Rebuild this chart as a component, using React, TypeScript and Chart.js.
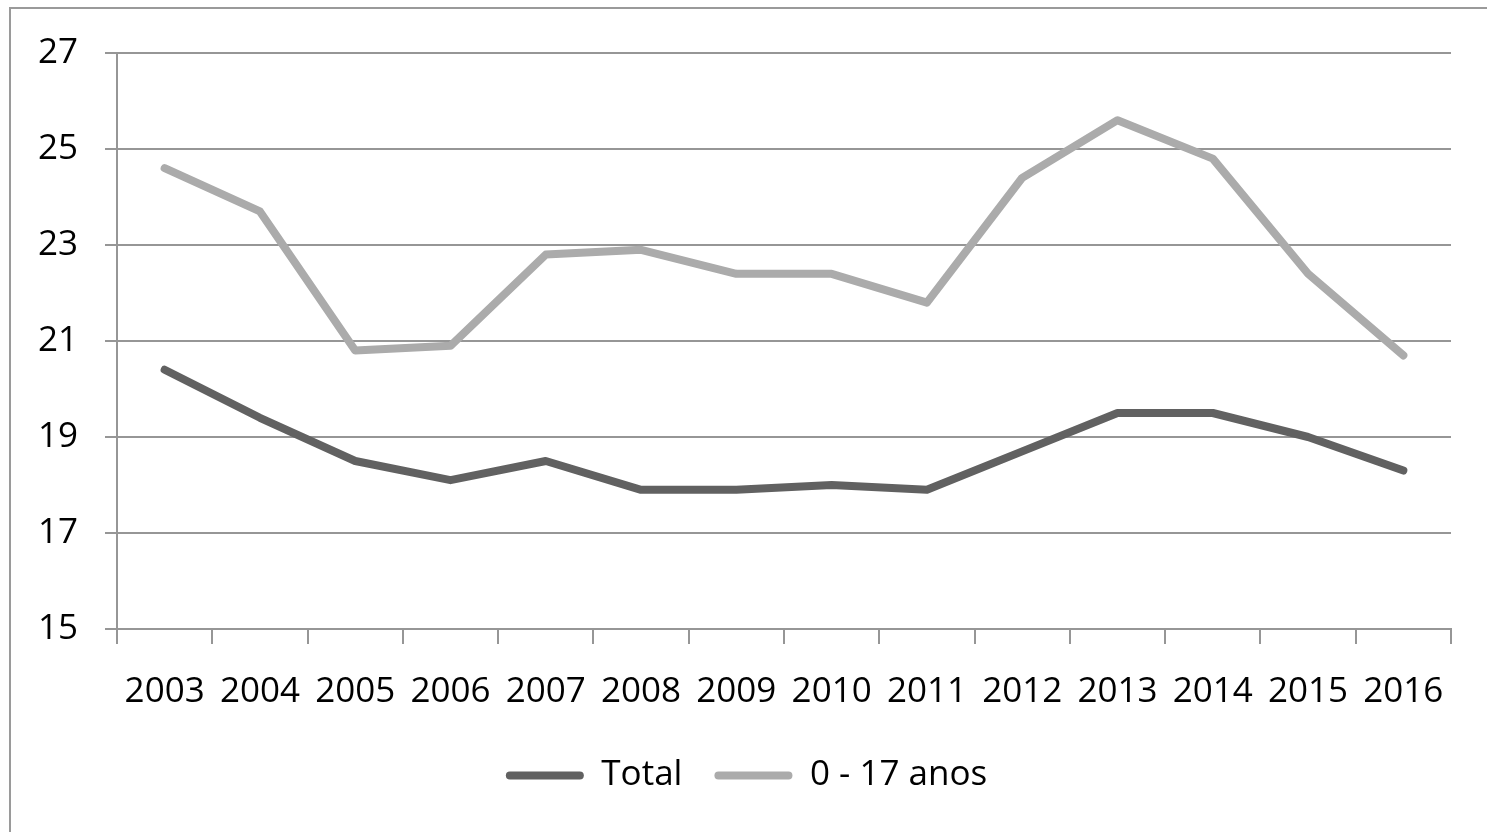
import React, { useEffect, useRef } from "react";
import { Chart, registerables } from "chart.js";

Chart.register(...registerables);

const years = ["2003", "2004", "2005", "2006", "2007", "2008", "2009", "2010", "2011", "2012", "2013", "2014", "2015", "2016"];
const totalValues = [20.4, 19.4, 18.5, 18.1, 18.5, 17.9, 17.9, 18.0, 17.9, 18.7, 19.5, 19.5, 19.0, 18.3];
const youthValues = [24.6, 23.7, 20.8, 20.9, 22.8, 22.9, 22.4, 22.4, 21.8, 24.4, 25.6, 24.8, 22.4, 20.7];
const seriesLabels = ["Total", "0 - 17 anos"];
const seriesColors = ["#616161", "#ababab"];
const yMin = 15;
const yMax = 27;
const yStep = 2;

const FONT = "'Open Sans', 'Liberation Sans', sans-serif";

const legendShift = {
  id: "legendShift",
  afterLayout(chart: any) {
    const lg = chart.legend;
    if (lg) {
      lg.left += 21;
      lg.right += 21;
    }
  },
};

export default function App() {
  const ref = useRef<HTMLCanvasElement | null>(null);

  useEffect(() => {
    if (!ref.current) return;
    const chart = new Chart(ref.current, {
      type: "line",
      data: {
        labels: years,
        datasets: [
          {
            label: seriesLabels[0],
            data: totalValues,
            borderColor: seriesColors[0],
            backgroundColor: seriesColors[0],
            borderWidth: 8,
            pointRadius: 0,
            tension: 0,
            borderCapStyle: "round",
            borderJoinStyle: "round",
          },
          {
            label: seriesLabels[1],
            data: youthValues,
            borderColor: seriesColors[1],
            backgroundColor: seriesColors[1],
            borderWidth: 8,
            pointRadius: 0,
            tension: 0,
            borderCapStyle: "round",
            borderJoinStyle: "round",
          },
        ],
      },
      plugins: [legendShift],
      options: {
        responsive: false,
        animation: false,
        devicePixelRatio: 1,
        layout: { padding: { left: 0, right: 36, top: 53, bottom: 29 } },
        plugins: {
          tooltip: { enabled: false },
          legend: {
            position: "bottom",
            labels: {
              color: "#000",
              font: { family: FONT, size: 35 },
              boxWidth: 78,
              boxHeight: 8,
              padding: 32,
              useBorderRadius: true,
              borderRadius: 4,
              generateLabels: (c: any) =>
                c.data.datasets.map((ds: any, i: number) => ({
                  text: ds.label,
                  fillStyle: ds.borderColor,
                  strokeStyle: ds.borderColor,
                  lineWidth: 0,
                  hidden: false,
                  datasetIndex: i,
                  borderRadius: 4,
                  fontColor: "#000",
                })),
            },
          },
        },
        scales: {
          x: {
            type: "category",
            offset: true,
            grid: {
              offset: true,
              drawOnChartArea: false,
              drawTicks: true,
              tickLength: 15,
              color: "#969696",
              lineWidth: 2,
            },
            border: { display: true, color: "#969696", width: 2 },
            ticks: {
              color: "#000",
              font: { family: FONT, size: 35 },
              padding: 27,
              maxRotation: 0,
              autoSkip: false,
            },
            afterFit: (scale: any) => {
              scale.height = 97;
            },
          },
          y: {
            min: yMin,
            max: yMax,
            grid: {
              color: "#969696",
              lineWidth: 2,
              drawTicks: true,
              tickLength: 12,
            },
            border: { display: true, color: "#969696", width: 2 },
            ticks: {
              stepSize: yStep,
              color: "#000",
              font: { family: FONT, size: 35 },
              padding: 27,
            },
            afterFit: (scale: any) => {
              scale.width = 117;
            },
          },
        },
      },
    });
    return () => chart.destroy();
  }, []);

  return (
    <div
      style={{
        position: "fixed",
        left: 0,
        top: 0,
        width: 1487,
        height: 832,
        overflow: "hidden",
        background: "#fff",
      }}
    >
      <div
        style={{
          position: "absolute",
          left: 9,
          top: 7,
          width: 1600,
          height: 900,
          border: "2px solid #9a9a9a",
          boxSizing: "border-box",
        }}
      />
      <canvas ref={ref} width={1487} height={832} style={{ position: "absolute", left: 0, top: 0 }} />
    </div>
  );
}
